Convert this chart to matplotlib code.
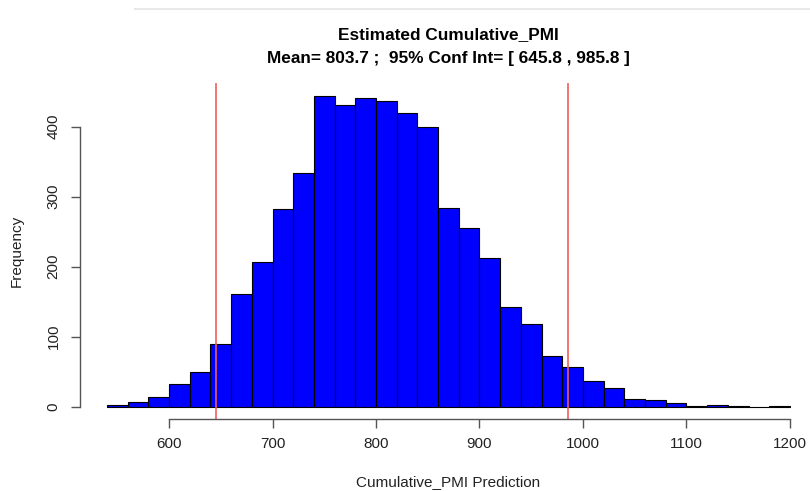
import numpy as np
from matplotlib import pyplot as plt
from matplotlib.lines import Line2D

plt.rcParams['font.family'] = ['Liberation Sans', 'DejaVu Sans']

# histogram bins (width 20) and counts
bin_edges = np.arange(540, 1201, 20)
counts = [2, 6, 14, 32, 50, 89, 161, 207, 282, 333,
          444, 431, 441, 436, 419, 400, 284, 255, 212, 142,
          118, 72, 56, 37, 27, 11, 10, 5, 1, 2,
          1, 0, 1]
ci_low = 645.8
ci_high = 985.8
mean_val = 803.7

fig = plt.figure(figsize=(8.1, 4.91), dpi=100)
W, H = 810, 491
ax = fig.add_axes([79.6 / W, (H - 419) / H, 737.7 / W, 335.7 / H])

ax.bar(bin_edges[:-1], counts, width=20, align='edge', color='#0000ff',
       edgecolor='black', linewidth=0.8)
ax.axvline(ci_low, color='#f0605a', lw=1.2)
ax.axvline(ci_high, color='#f0605a', lw=1.2)

ax.set_xlim(513.6, 1226.4)
ax.set_ylim(-17.76, 461.8)

for s in ['top', 'right']:
    ax.spines[s].set_visible(False)
ax.spines['bottom'].set_bounds(600, 1200)
ax.spines['left'].set_bounds(0, 400)
for s in ['bottom', 'left']:
    ax.spines[s].set_color('#555555')
    ax.spines[s].set_linewidth(1)

ax.set_xticks([600, 700, 800, 900, 1000, 1100, 1200])
ax.set_yticks([0, 100, 200, 300, 400])
ax.tick_params(axis='both', direction='out', length=6.3, width=1,
               color='#555555', labelsize=11, labelcolor='#222222')
ax.tick_params(axis='x', pad=7)
ax.tick_params(axis='y', pad=7.5)
for lab in ax.get_yticklabels():
    lab.set_rotation(90)
    lab.set_va('center')

fig.text(448.5 / W, 1 - 35 / H, 'Estimated Cumulative_PMI', ha='center',
         va='center', fontsize=12.4, fontweight='bold')
fig.text(448.5 / W, 1 - 59 / H,
         'Mean= %.1f ;  95%% Conf Int= [ %.1f , %.1f ]' % (mean_val, ci_low, ci_high),
         ha='center', va='center', fontsize=12.4, fontweight='bold')
fig.text(448.5 / W, 1 - 481.7 / H, 'Cumulative_PMI Prediction', ha='center',
         va='center', fontsize=11, color='#222222')
fig.text(16.7 / W, 1 - 251 / H, 'Frequency', ha='center', va='center',
         rotation=90, fontsize=11, color='#222222')

# faint line at the very top of the screenshot
fig.add_artist(Line2D([135 / W, 1], [1 - 9 / H, 1 - 9 / H], color='#e8e8e8', lw=1.5))

plt.savefig('out.png', dpi=100)
